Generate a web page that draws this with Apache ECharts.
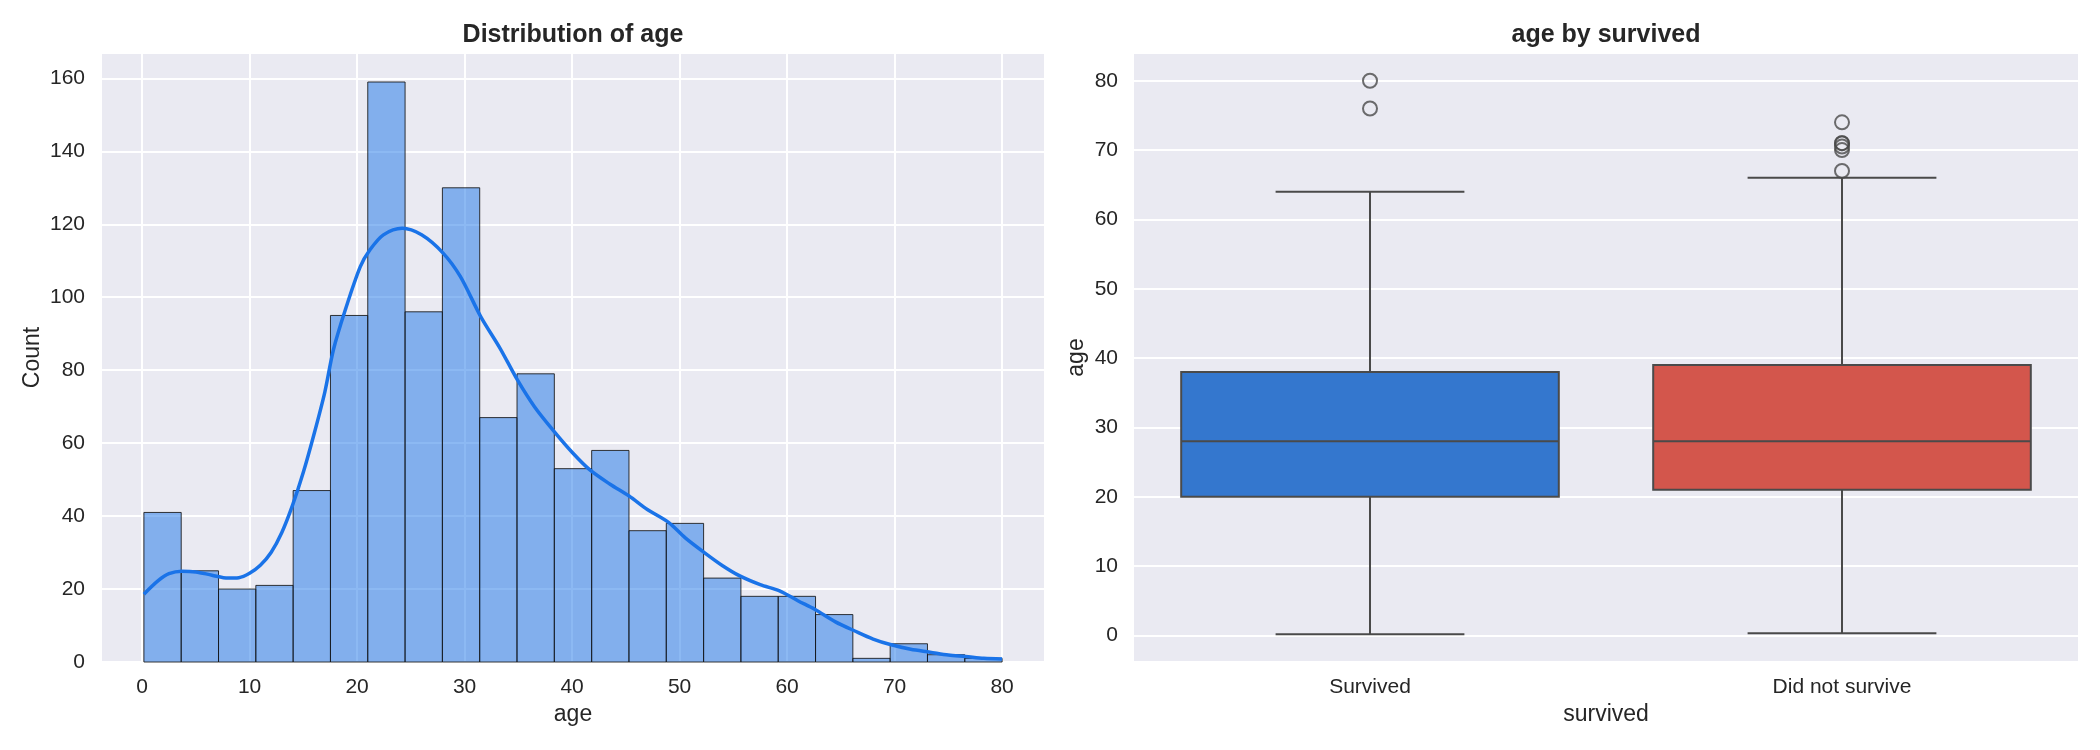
<!DOCTYPE html>
<html>
<head>
<meta charset="utf-8">
<script src="https://cdn.jsdelivr.net/npm/echarts@6/dist/echarts.min.js"></script>
<style>
  html, body { margin: 0; padding: 0; background: #fff; }
  #main { width: 2100px; height: 750px; }
</style>
</head>
<body>
<div id="main"></div>
<script>
// histogram of age, 23 bins between min and max age
const ageMin = 0.17;
const ageMax = 80;
const binCounts = [41, 25, 20, 21, 47, 95, 159, 96, 130, 67, 79, 53, 58, 36, 38, 23, 18, 18, 13, 1, 5, 2, 1];

// kde curve as [age, count]
const kdeAges = [0.17, 1.5, 2.5, 3.7, 5, 6.5, 8, 9, 10, 11, 12, 13, 14, 15, 16, 17, 17.8, 18.9, 20.3, 21.2, 22.45, 24.2, 26, 28, 29.6, 31.5, 33.3, 34.9, 36.5, 38.3, 40, 41.6, 43.5, 45.3, 47, 49, 50.5, 52.3, 54, 55.6, 57.5, 59.3, 61, 62.6, 64.5, 66.3, 68, 69.6, 71.5, 73.3, 75, 76.6, 78.3, 80];
const kdeCounts = [18.6, 22.3, 24.2, 24.9, 24.7, 23.8, 23.0, 23.1, 24.3, 26.5, 30, 35.5, 43, 52, 62.5, 74, 85.6, 96.5, 108.4, 113, 117.1, 118.9, 117.1, 112.1, 105.7, 94.7, 86, 77.4, 70, 63.3, 57.5, 52.8, 48.8, 45.5, 41.8, 38.2, 34.1, 30, 26.4, 23.6, 21.2, 19.5, 16.8, 14.4, 11.0, 8.5, 6.3, 4.8, 3.5, 2.7, 1.9, 1.5, 1.0, 0.8];

// boxplot: age by survived
const groups = ['Survived', 'Did not survive'];
const boxMin = [0.17, 0.33];
const boxQ1 = [20, 21];
const boxMedian = [28, 28];
const boxQ3 = [38, 39];
const boxMax = [64, 66];
const outlierGroup = [0, 0, 1, 1, 1, 1, 1, 1];
const outlierAge = [80, 76, 74, 71, 71, 70.5, 70, 67];

const boxColors = ['#3477ce', '#d3564c'];
const boxLine = '#4a4a4a';
const txt = '#262626';
const font = 'Liberation Sans, Arial, sans-serif';

const binW = (ageMax - ageMin) / binCounts.length;
const histData = binCounts.map((c, i) => [ageMin + i * binW, ageMin + (i + 1) * binW, c]);
const kdeData = kdeAges.map((a, i) => [a, kdeCounts[i]]);
const boxData = groups.map((g, i) => [i, boxMin[i], boxQ1[i], boxMedian[i], boxQ3[i], boxMax[i]]);
const outData = outlierAge.map((a, i) => [outlierGroup[i], a]);

const tickLabel = { color: txt, fontSize: 21, fontFamily: font };
const nameStyle = { color: txt, fontSize: 23, fontFamily: font };
const gridLine = { show: true, lineStyle: { color: '#ffffff', width: 2 } };

const chart = echarts.init(document.getElementById('main'));
chart.setOption({
  animation: false,
  backgroundColor: '#ffffff',
  title: [
    {
      text: 'Distribution of age', left: 573, top: 23, textAlign: 'center', padding: 0,
      textStyle: { fontSize: 25, fontWeight: 'bold', color: txt, fontFamily: font }
    },
    {
      text: 'age by survived', left: 1606, top: 23, textAlign: 'center', padding: 0,
      textStyle: { fontSize: 25, fontWeight: 'bold', color: txt, fontFamily: font }
    }
  ],
  grid: [
    { left: 101, top: 53, width: 944, height: 609, show: true, backgroundColor: '#eaeaf2', borderWidth: 0 },
    { left: 1134, top: 53, width: 944, height: 609, show: true, backgroundColor: '#eaeaf2', borderWidth: 0 }
  ],
  xAxis: [
    {
      gridIndex: 0, type: 'value', min: -3.82, max: 83.99, splitNumber: 9,
      name: 'age', nameLocation: 'middle', nameGap: 39, nameTextStyle: nameStyle,
      axisLine: { show: false }, axisTick: { show: false },
      axisLabel: Object.assign({ margin: 15, showMinLabel: false, showMaxLabel: false }, tickLabel),
      splitLine: gridLine
    },
    {
      gridIndex: 1, type: 'category', data: groups,
      name: 'survived', nameLocation: 'middle', nameGap: 39, nameTextStyle: nameStyle,
      axisLine: { show: false }, axisTick: { show: false },
      axisLabel: Object.assign({ margin: 15 }, tickLabel),
      splitLine: { show: false }
    }
  ],
  yAxis: [
    {
      gridIndex: 0, type: 'value', min: 0, max: 166.95, interval: 20,
      name: 'Count', nameLocation: 'middle', nameGap: 57, nameTextStyle: nameStyle,
      axisLine: { show: false }, axisTick: { show: false },
      axisLabel: Object.assign({ margin: 16, showMaxLabel: false }, tickLabel),
      splitLine: gridLine
    },
    {
      gridIndex: 1, type: 'value', min: -3.83, max: 84, splitNumber: 9,
      name: 'age', nameLocation: 'middle', nameGap: 46, nameTextStyle: nameStyle,
      axisLine: { show: false }, axisTick: { show: false },
      axisLabel: Object.assign({ margin: 16, showMinLabel: false, showMaxLabel: false }, tickLabel),
      splitLine: gridLine
    }
  ],
  series: [
    {
      type: 'custom', xAxisIndex: 0, yAxisIndex: 0, data: histData,
      encode: { x: [0, 1], y: 2 },
      renderItem: function (params, api) {
        const p0 = api.coord([api.value(0), api.value(2)]);
        const p1 = api.coord([api.value(1), 0]);
        return {
          type: 'rect',
          shape: { x: p0[0], y: p0[1], width: p1[0] - p0[0], height: p1[1] - p0[1] },
          style: { fill: 'rgba(26,115,232,0.5)', stroke: 'rgba(20,20,20,0.85)', lineWidth: 1 }
        };
      }
    },
    {
      type: 'line', xAxisIndex: 0, yAxisIndex: 0, data: kdeData,
      smooth: 0.3, showSymbol: false, z: 5,
      lineStyle: { color: '#1a73e8', width: 3.5 }
    },
    {
      type: 'custom', xAxisIndex: 1, yAxisIndex: 1, data: boxData,
      encode: { x: 0, y: [1, 2, 3, 4, 5] },
      renderItem: function (params, api) {
        const i = api.value(0);
        const bw = api.size([1, 0])[0] * 0.8;
        const cx = api.coord([i, 0])[0];
        const yMin = api.coord([i, api.value(1)])[1];
        const yQ1 = api.coord([i, api.value(2)])[1];
        const yMed = api.coord([i, api.value(3)])[1];
        const yQ3 = api.coord([i, api.value(4)])[1];
        const yMax = api.coord([i, api.value(5)])[1];
        const ln = { stroke: boxLine, lineWidth: 2 };
        return {
          type: 'group',
          children: [
            { type: 'line', shape: { x1: cx, y1: yQ1, x2: cx, y2: yMin }, style: ln },
            { type: 'line', shape: { x1: cx, y1: yQ3, x2: cx, y2: yMax }, style: ln },
            { type: 'line', shape: { x1: cx - bw / 4, y1: yMin, x2: cx + bw / 4, y2: yMin }, style: ln },
            { type: 'line', shape: { x1: cx - bw / 4, y1: yMax, x2: cx + bw / 4, y2: yMax }, style: ln },
            {
              type: 'rect', shape: { x: cx - bw / 2, y: yQ3, width: bw, height: yQ1 - yQ3 },
              style: { fill: boxColors[i], stroke: boxLine, lineWidth: 2 }
            },
            { type: 'line', shape: { x1: cx - bw / 2, y1: yMed, x2: cx + bw / 2, y2: yMed }, style: ln }
          ]
        };
      }
    },
    {
      type: 'scatter', xAxisIndex: 1, yAxisIndex: 1, data: outData,
      symbol: 'circle', symbolSize: 14,
      itemStyle: { color: 'rgba(0,0,0,0)', borderColor: boxLine, borderWidth: 2 }
    }
  ]
});
</script>
</body>
</html>
